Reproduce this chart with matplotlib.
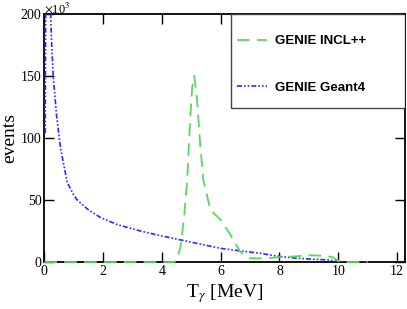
import matplotlib.pyplot as plt
from matplotlib.patches import Rectangle

# values (events in units of 10^3)
incl_x = [0, 4.4, 4.5, 4.63, 4.75, 4.86, 4.95, 5.03, 5.1, 5.2, 5.3, 5.41, 5.65,
          6.0, 6.33, 6.67, 7.0, 7.5, 8.0, 8.5, 9.0, 9.5, 9.8, 10.07, 11.0]
incl_y = [0, 0, 1, 12, 35, 66, 110, 141, 150, 130, 95, 66, 42,
          34, 22, 8, 3, 3, 4, 4.5, 5.5, 5, 4, 0, 0]

g4_x = [0.03, 0.06, 0.25, 0.3, 0.42, 0.55, 0.63, 0.78, 1.0, 1.12, 1.5, 1.9,
        2.5, 3.27, 4.0, 5.0, 6.0, 6.33, 7.35, 8.0, 8.6, 9.7, 10.1, 11.0]
g4_y = [104, 300, 175, 150, 117, 92, 82, 64, 54, 50, 42, 36,
        30, 25, 21, 16, 11, 10, 7, 4.5, 3, 1.6, 0, 0]

labels = ["GENIE INCL++", "GENIE Geant4"]

plt.rcParams['font.family'] = ['Liberation Serif', 'DejaVu Serif']
plt.rcParams['mathtext.fontset'] = 'stix'

fig = plt.figure(figsize=(4.07, 3.09), dpi=100)
ax = fig.add_axes([0.109, 0.152, 0.886, 0.803])

ax.plot(g4_x, g4_y, color='#2a2aff', lw=1.2, dashes=(3, 1.2, 1, 1.2, 1, 1.2),
        label=labels[1], zorder=3)
ax.plot(incl_x, incl_y, color='#5cd65c', lw=1.3, dashes=(7, 4), label=labels[0],
        clip_on=False, zorder=4)

ax.set_xlim(0, 12.27)
ax.set_ylim(0, 200)
ax.set_xticks([0, 2, 4, 6, 8, 10, 12])
ax.set_yticks([0, 50, 100, 150, 200])
ax.tick_params(direction='in', length=7, width=1, labelsize=10, pad=2,
               top=True, right=True)
for s in ax.spines.values():
    s.set_linewidth(1.3)

ax.set_xlabel(r'T$_\gamma$ [MeV]', fontsize=14, labelpad=3)
ax.set_ylabel('events', fontsize=14, labelpad=2)
ax.text(0.0, 1.006, r'$\times$10$^3$', transform=ax.transAxes, fontsize=9,
        ha='left', va='baseline')

# legend box in the upper right corner
ax.add_patch(Rectangle((0.517, 0.62), 0.483, 0.38, transform=ax.transAxes,
                       fill=True, facecolor='white', edgecolor='#444444',
                       lw=1.0, zorder=5))
handles, names = ax.get_legend_handles_labels()
leg = ax.legend(handles[::-1], names[::-1], loc='upper left',
                bbox_to_anchor=(0.515, 0.942), frameon=False, borderpad=0,
                handlelength=2.3, handletextpad=0.6, labelspacing=2.6,
                prop={'family': 'Liberation Sans', 'weight': 'bold', 'size': 9.5})
leg.set_zorder(6)

fig.savefig('out.png', dpi=100)
